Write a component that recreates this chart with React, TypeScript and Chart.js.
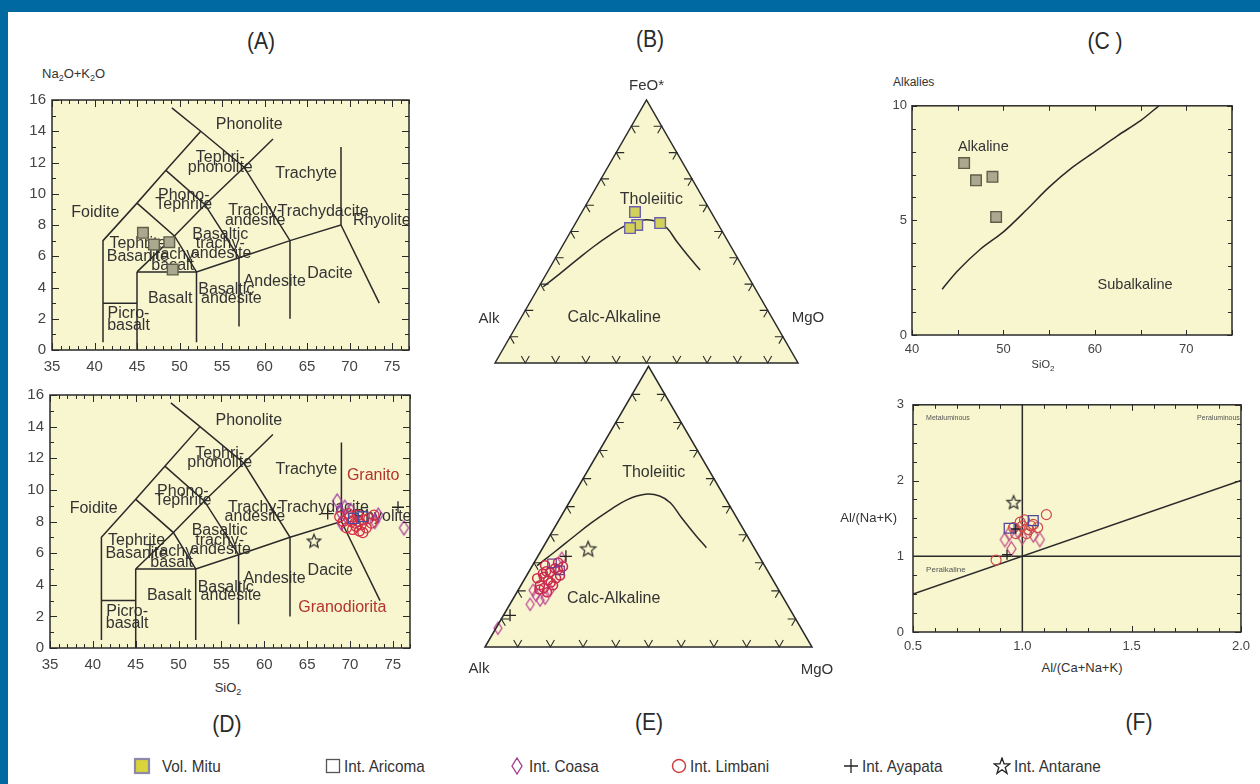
import React, { useEffect, useRef } from "react";
import { Chart, registerables } from "chart.js";

Chart.register(...registerables);

const FILL = "#f8f6cf";
const INK = "#2a2a2a";
const TEXT = "#333333";
const SANS = '"Liberation Sans", Arial, Helvetica, sans-serif';
const BLUE = "#0069a1";

const MITU_FILL = "#aaa98f";
const MITU_EDGE = "#5f5f4a";
const MITU_TERN_FILL = "#d2d25a";
const MITU_TERN_EDGE = "#6b5fb0";
const ARICOMA = "#4a4a9c";
const COASA = "#a23ea6";
const LIMBANI = "#d22f45";
const AYAPATA = "#222222";
const ANTARANE = "#333333";
const RED_TEXT = "#b2332d";
const CLEAR = "rgba(0,0,0,0)";
const H = Math.sqrt(3) / 2;

// ---------------- TAS diagrams (A, D)
const tasXTicks = [35, 40, 45, 50, 55, 60, 65, 70, 75];
const tasYTicks = [0, 2, 4, 6, 8, 10, 12, 14, 16];

const tasLines: number[][][] = [
  [[41, 0.5], [41, 7], [45, 9.4], [48.4, 11.5], [52.5, 14]],
  [[49.1, 15.5], [52.5, 14], [57.6, 11.7], [63, 7], [63, 2]],
  [[45, 9.4], [49.4, 7.3], [52, 5], [52, 0.5]],
  [[48.4, 11.5], [53, 9.3], [57, 5.9], [57, 1.5]],
  [[45, 5], [49.4, 7.3], [53, 9.3], [57.6, 11.7], [61, 13.5]],
  [[45, 5], [52, 5], [57, 5.9], [63, 7], [69, 8], [69, 13]],
  [[69, 8], [73.5, 3]],
  [[45, 0], [45, 5]],
  [[41, 3], [45, 3]],
];

const tasLabelText = [
  "Phonolite", "Tephri-", "phonolite", "Trachyte", "Phono-", "Tephrite", "Foidite",
  "Trachy-", "andesite", "Trachydacite", "Rhyolite", "Basaltic", "trachy-", "andesite",
  "Tephrite", "Basanite", "Trachy-", "basalt", "Dacite", "Andesite", "Basaltic",
  "Basalt", "andesite", "Picro-", "basalt",
];
const tasLabelX = [
  58.2, 54.8, 54.8, 64.9, 50.5, 50.5, 40.1,
  58.9, 58.9, 66.9, 73.8, 54.8, 54.8, 54.9,
  45.1, 45.1, 49.2, 49.2, 67.7, 61.2, 55.5,
  48.9, 56.1, 44.0, 44.0,
];
const tasLabelY = [
  14.4, 12.3, 11.7, 11.3, 9.9, 9.3, 8.8,
  8.9, 8.3, 8.85, 8.3, 7.4, 6.8, 6.2,
  6.8, 6.0, 6.1, 5.4, 4.9, 4.4, 3.85,
  3.3, 3.3, 2.3, 1.55,
];

const granText = ["Granito", "Granodiorita"];
const granX = [72.7, 69.1];
const granY = [10.9, 2.55];

// Vol. Mitu (A and C)
const mituSiO2 = [45.7, 47.0, 48.8, 49.2];
const mituAlk = [7.5, 6.75, 6.9, 5.15];

// Intrusives (D)
const limbaniSiO2 = [69.2, 69.6, 70.0, 70.3, 70.6, 70.9, 71.1, 71.3, 71.6, 71.9, 72.2, 72.5, 70.2, 71.0, 69.8, 72.8, 68.8, 70.7, 71.5];
const limbaniAlk = [8.0, 7.6, 8.3, 7.5, 7.9, 8.4, 7.4, 7.8, 8.1, 7.6, 8.2, 7.9, 8.0, 8.0, 8.5, 8.4, 8.3, 7.7, 7.3];
const coasaSiO2 = [68.5, 68.9, 69.4, 70.1, 72.9, 73.3, 69.0, 76.3];
const coasaAlk = [9.3, 8.6, 8.9, 8.7, 8.0, 8.4, 7.9, 7.6];
const aricomaSiO2 = [70.4, 71.5];
const aricomaAlk = [8.2, 8.3];
const ayapataSiO2 = [67.4, 75.6];
const ayapataAlk = [8.5, 8.9];
const antaraneSiO2 = [65.8];
const antaraneAlk = [6.8];

// ---------------- AFM ternaries (B, E): FeO* (F) and MgO (M) in %, Alk = rest
const curveF = [29.0, 34.1, 39.2, 44.2, 48.7, 52.5, 54.4, 53.8, 51.3, 46.2, 39.8, 35.4];
const curveM = [1.4, 4.5, 7.4, 10.4, 13.7, 17.3, 21.8, 26.5, 31.1, 36.9, 44.5, 50.0];

const mituF = [57.4, 52.5, 51.3, 53.2];
const mituM = [17.5, 20.7, 18.9, 27.9];

const limbaniF = [29.1, 26.6, 28.0, 25.5, 23.8, 22.0, 22.0, 30.1, 26.2, 28.7, 24.5, 19.5, 24.5, 27.5, 21.0, 25.0, 23.0, 27.0, 20.5];
const limbaniM = [3.8, 6.6, 7.4, 10.2, 7.4, 5.8, 9.8, 7.3, 4.6, 9.5, 3.7, 9.2, 9.5, 8.5, 7.5, 5.5, 8.6, 5.2, 6.4];
const coasaF = [18.4, 16.7, 20.2, 17.4, 20.2, 6.7, 31.6, 15.2];
const coasaM = [6.4, 8.5, 4.6, 9.7, 9.8, 0.6, 7.7, 6.2];
const aricomaF = [29.8, 27.3];
const aricomaM = [5.6, 9.3];
const ayapataF = [11.3, 32.3];
const ayapataM = [2.0, 8.6];
const antaraneF = [35.1];
const antaraneM = [14.0];

const ternLabelText = ["Tholeiitic", "Calc-Alkaline"];
const ternLabelF = [62.0, 17.1];
const ternLabelM = [20.6, 30.8];

// ---------------- Alkalies vs SiO2 (C)
const cXTicks = [40, 50, 60, 70];
const cYTicks = [0, 5, 10];
const cCurveX = [43.3, 45, 47.5, 50, 52.5, 55, 57.5, 60, 62.5, 65, 67];
const cCurveY = [2.0, 2.8, 3.75, 4.5, 5.45, 6.45, 7.3, 8.0, 8.7, 9.35, 10.0];

// ---------------- Shand (F)
const fXTicks = [0.5, 1.0, 1.5, 2.0];
const fYTicks = [0, 1, 2, 3];
const fLines: number[][][] = [
  [[0.5, 1], [2, 1]],
  [[1, 0], [1, 3]],
  [[0.5, 0.5], [2, 2]],
];
const limbaniACNK = [1.11, 0.88, 1.0, 1.03, 0.97, 1.05, 0.99, 1.02, 1.07, 0.96, 1.01, 1.04];
const limbaniANK = [1.55, 0.95, 1.4, 1.35, 1.3, 1.42, 1.45, 1.3, 1.38, 1.38, 1.48, 1.4];
const coasaACNK = [0.92, 0.95, 1.08, 1.05, 0.98, 1.0, 0.94];
const coasaANK = [1.22, 1.1, 1.22, 1.28, 1.33, 1.25, 1.3];
const aricomaACNK = [0.94, 1.05];
const aricomaANK = [1.37, 1.47];
const ayapataACNK = [0.97, 0.93];
const ayapataANK = [1.36, 1.02];
const antaraneACNK = [0.96];
const antaraneANK = [1.72];

// ---------------- helpers
type Lbl = { text: string; x: number; y: number; color?: string; size?: number; align?: CanvasTextAlign };

function pts(xs: number[], ys: number[]) {
  return xs.map((x, i) => ({ x, y: ys[i] }));
}
function tpt(F: number, M: number) {
  return { x: (M + F / 2) / 100, y: (F / 100) * H };
}
function tpts(Fs: number[], Ms: number[]) {
  return Fs.map((f, i) => tpt(f, Ms[i]));
}
function lineSets(lines: number[][][]) {
  return lines.map((pl) => ({
    data: pl.map(([x, y]) => ({ x, y })),
    showLine: true,
    pointRadius: 0,
    borderColor: INK,
    borderWidth: 1.5,
    tension: 0,
    fill: false,
  }));
}
function pointSet(data: any[], style: any, radius: number, fill: string, edge: string, bw = 1.3) {
  return {
    data,
    showLine: false,
    pointStyle: style,
    pointRadius: radius,
    pointBackgroundColor: fill,
    pointBorderColor: edge,
    pointBorderWidth: bw,
    backgroundColor: fill,
    borderColor: edge,
  };
}
function starImage(r: number, color: string) {
  const s = Math.ceil(r * 2 + 4);
  const c = document.createElement("canvas");
  c.width = s;
  c.height = s;
  const g = c.getContext("2d")!;
  g.strokeStyle = color;
  g.lineWidth = 1.3;
  g.beginPath();
  for (let i = 0; i < 10; i++) {
    const rr = i % 2 === 0 ? r : r * 0.45;
    const ang = -Math.PI / 2 + (i * Math.PI) / 5;
    const x = s / 2 + rr * Math.cos(ang);
    const y = s / 2 + 1 + rr * Math.sin(ang);
    if (i === 0) g.moveTo(x, y);
    else g.lineTo(x, y);
  }
  g.closePath();
  g.stroke();
  return c;
}
function diamondImage(w: number, h: number, color: string) {
  const c = document.createElement("canvas");
  c.width = w + 4;
  c.height = h + 4;
  const g = c.getContext("2d")!;
  g.strokeStyle = color;
  g.lineWidth = 1.3;
  g.beginPath();
  g.moveTo(c.width / 2, 2);
  g.lineTo(c.width - 2, c.height / 2);
  g.lineTo(c.width / 2, c.height - 2);
  g.lineTo(2, c.height / 2);
  g.closePath();
  g.stroke();
  return c;
}

interface RectSpec {
  area: { l: number; t: number; r: number; b: number };
  yW: number;
  xH: number;
  padTop: number;
  padRight: number;
  xMin: number;
  xMax: number;
  yMin: number;
  yMax: number;
  xTicks: number[];
  yTicks: number[];
  fmtX?: (v: number) => string;
  tickSize: number;
  xPad: number;
  yPad: number;
  xMinor: number;
  xMajor: number;
  yMinor: number;
  yMajor: number;
  minorLen: number;
  majorLen: number;
  labels: Lbl[];
  datasets: () => any[];
}

function rectBox(s: RectSpec) {
  return {
    left: s.area.l - s.yW,
    top: s.area.t - s.padTop,
    width: s.yW + (s.area.r - s.area.l) + s.padRight,
    height: s.padTop + (s.area.b - s.area.t) + s.xH,
  };
}

function rectDecor(s: RectSpec) {
  return {
    id: "rectDecor",
    beforeDatasetsDraw(chart: any) {
      const { ctx, chartArea: a } = chart;
      const xs = chart.scales.x;
      const ys = chart.scales.y;
      ctx.save();
      ctx.fillStyle = FILL;
      ctx.fillRect(a.left, a.top, a.right - a.left, a.bottom - a.top);
      ctx.beginPath();
      ctx.rect(a.left, a.top, a.right - a.left, a.bottom - a.top);
      ctx.clip();
      ctx.textBaseline = "middle";
      s.labels.forEach((l) => {
        ctx.font = `${l.size || 16}px ${SANS}`;
        ctx.fillStyle = l.color || TEXT;
        ctx.textAlign = l.align || "center";
        ctx.fillText(l.text, xs.getPixelForValue(l.x), ys.getPixelForValue(l.y));
      });
      ctx.restore();
    },
    afterDatasetsDraw(chart: any) {
      const { ctx, chartArea: a } = chart;
      const xs = chart.scales.x;
      const ys = chart.scales.y;
      ctx.save();
      ctx.strokeStyle = INK;
      ctx.lineWidth = 1;
      const isMajor = (v: number, m: number) => Math.abs(v / m - Math.round(v / m)) < 1e-6;
      const xi0 = Math.ceil(s.xMin / s.xMinor - 1e-9);
      const xi1 = Math.floor(s.xMax / s.xMinor + 1e-9);
      for (let i = xi0; i <= xi1; i++) {
        const v = i * s.xMinor;
        const L = isMajor(v, s.xMajor) ? s.majorLen : s.minorLen;
        const px = Math.round(xs.getPixelForValue(v)) + 0.5;
        ctx.beginPath();
        ctx.moveTo(px, a.bottom);
        ctx.lineTo(px, a.bottom - L);
        ctx.moveTo(px, a.top);
        ctx.lineTo(px, a.top + L);
        ctx.stroke();
      }
      const yi0 = Math.ceil(s.yMin / s.yMinor - 1e-9);
      const yi1 = Math.floor(s.yMax / s.yMinor + 1e-9);
      for (let i = yi0; i <= yi1; i++) {
        const v = i * s.yMinor;
        const L = isMajor(v, s.yMajor) ? s.majorLen : s.minorLen;
        const py = Math.round(ys.getPixelForValue(v)) + 0.5;
        ctx.beginPath();
        ctx.moveTo(a.left, py);
        ctx.lineTo(a.left + L, py);
        ctx.moveTo(a.right, py);
        ctx.lineTo(a.right - L, py);
        ctx.stroke();
      }
      ctx.lineWidth = 1.5;
      ctx.strokeRect(a.left, a.top, a.right - a.left, a.bottom - a.top);
      ctx.restore();
    },
  };
}

function buildRect(canvas: HTMLCanvasElement, s: RectSpec) {
  return new Chart(canvas, {
    type: "scatter",
    data: { datasets: s.datasets() },
    options: {
      responsive: false,
      animation: false,
      devicePixelRatio: 1,
      events: [],
      layout: { padding: { left: 0, top: s.padTop, right: s.padRight, bottom: 0 } },
      plugins: { legend: { display: false }, tooltip: { enabled: false } },
      scales: {
        x: {
          type: "linear",
          position: "bottom",
          min: s.xMin,
          max: s.xMax,
          grid: { display: false, drawTicks: false },
          border: { display: false },
          ticks: {
            color: "#444",
            font: { family: SANS, size: s.tickSize },
            padding: s.xPad,
            maxRotation: 0,
            autoSkip: false,
            callback: (v: any) => (s.fmtX ? s.fmtX(Number(v)) : String(v)),
          },
          afterBuildTicks: (sc: any) => {
            sc.ticks = s.xTicks.map((v) => ({ value: v }));
          },
          afterFit: (sc: any) => {
            sc.height = s.xH;
          },
        },
        y: {
          type: "linear",
          position: "left",
          min: s.yMin,
          max: s.yMax,
          grid: { display: false, drawTicks: false },
          border: { display: false },
          ticks: {
            color: "#444",
            font: { family: SANS, size: s.tickSize },
            padding: s.yPad,
            autoSkip: false,
            callback: (v: any) => String(v),
          },
          afterBuildTicks: (sc: any) => {
            sc.ticks = s.yTicks.map((v) => ({ value: v }));
          },
          afterFit: (sc: any) => {
            sc.width = s.yW;
          },
        },
      },
    } as any,
    plugins: [rectDecor(s)],
  });
}

interface TernSpec {
  area: { l: number; t: number; r: number; b: number };
  box: { left: number; top: number; width: number; height: number };
  corners: { text: string; at: "A" | "T" | "R"; dx: number; dy: number }[];
  datasets: () => any[];
}

function ternDecor(s: TernSpec) {
  const geo = (chart: any) => {
    const xs = chart.scales.x;
    const ys = chart.scales.y;
    const P = (F: number, M: number) => {
      const q = tpt(F, M);
      return [xs.getPixelForValue(q.x), ys.getPixelForValue(q.y)];
    };
    return { P, A: P(0, 0), T: P(100, 0), R: P(0, 100) };
  };
  return {
    id: "ternDecor",
    beforeDatasetsDraw(chart: any) {
      const ctx = chart.ctx;
      const { P, A, T, R } = geo(chart);
      ctx.save();
      ctx.fillStyle = FILL;
      ctx.beginPath();
      ctx.moveTo(A[0], A[1]);
      ctx.lineTo(T[0], T[1]);
      ctx.lineTo(R[0], R[1]);
      ctx.closePath();
      ctx.fill();
      ctx.font = `16px ${SANS}`;
      ctx.fillStyle = TEXT;
      ctx.textAlign = "center";
      ctx.textBaseline = "middle";
      ternLabelText.forEach((t, i) => {
        const [x, y] = P(ternLabelF[i], ternLabelM[i]);
        ctx.fillText(t, x, y);
      });
      ctx.restore();
    },
    afterDatasetsDraw(chart: any) {
      const ctx = chart.ctx;
      const { A, T, R } = geo(chart);
      ctx.save();
      ctx.strokeStyle = INK;
      ctx.lineWidth = 1.5;
      ctx.beginPath();
      ctx.moveTo(A[0], A[1]);
      ctx.lineTo(T[0], T[1]);
      ctx.lineTo(R[0], R[1]);
      ctx.closePath();
      ctx.stroke();
      const unit = (p: number[], q: number[]) => {
        const dx = q[0] - p[0];
        const dy = q[1] - p[1];
        const d = Math.hypot(dx, dy);
        return [dx / d, dy / d];
      };
      const edges = [
        { p: A, q: R, d1: unit(A, T), d2: unit(R, T) },
        { p: A, q: T, d1: unit(A, R), d2: unit(T, R) },
        { p: R, q: T, d1: unit(R, A), d2: unit(T, A) },
      ];
      const L = 8;
      ctx.lineWidth = 1.1;
      edges.forEach((e) => {
        for (let i = 1; i <= 9; i++) {
          const t = i / 10;
          const x = e.p[0] + (e.q[0] - e.p[0]) * t;
          const y = e.p[1] + (e.q[1] - e.p[1]) * t;
          ctx.beginPath();
          ctx.moveTo(x + e.d1[0] * L, y + e.d1[1] * L);
          ctx.lineTo(x, y);
          ctx.lineTo(x + e.d2[0] * L, y + e.d2[1] * L);
          ctx.stroke();
        }
      });
      ctx.font = `15px ${SANS}`;
      ctx.fillStyle = TEXT;
      ctx.textAlign = "center";
      ctx.textBaseline = "middle";
      const V: any = { A, T, R };
      s.corners.forEach((c) => {
        const v = V[c.at];
        ctx.fillText(c.text, v[0] + c.dx, v[1] + c.dy);
      });
      ctx.restore();
    },
  };
}

function buildTern(canvas: HTMLCanvasElement, s: TernSpec) {
  return new Chart(canvas, {
    type: "scatter",
    data: { datasets: s.datasets() },
    options: {
      responsive: false,
      animation: false,
      devicePixelRatio: 1,
      events: [],
      layout: {
        padding: {
          left: s.area.l - s.box.left,
          top: s.area.t - s.box.top,
          right: s.box.left + s.box.width - s.area.r,
          bottom: s.box.top + s.box.height - s.area.b,
        },
      },
      plugins: { legend: { display: false }, tooltip: { enabled: false } },
      scales: {
        x: { type: "linear", display: false, min: 0, max: 1 },
        y: { type: "linear", display: false, min: 0, max: H },
      },
    } as any,
    plugins: [ternDecor(s)],
  });
}

function curveSet(Fs: number[], Ms: number[]) {
  return {
    data: tpts(Fs, Ms),
    showLine: true,
    pointRadius: 0,
    borderColor: INK,
    borderWidth: 1.5,
    tension: 0.4,
    fill: false,
  };
}

// ---------------- panel specs
const tasBase = {
  yW: 45,
  xH: 30,
  padTop: 12,
  padRight: 14,
  xMin: 35,
  xMax: 77,
  yMin: 0,
  yMax: 16,
  xTicks: tasXTicks,
  yTicks: tasYTicks,
  tickSize: 15,
  xPad: 8,
  yPad: 6,
  xMinor: 1,
  xMajor: 5,
  yMinor: 1,
  yMajor: 2,
  minorLen: 4,
  majorLen: 7,
};

const tasLabels: Lbl[] = tasLabelText.map((t, i) => ({ text: t, x: tasLabelX[i], y: tasLabelY[i] }));

const specA: RectSpec = {
  ...tasBase,
  area: { l: 52, t: 97, r: 409, b: 350 },
  labels: tasLabels,
  datasets: () => [
    pointSet(pts(mituSiO2, mituAlk), "rect", 7.5, MITU_FILL, MITU_EDGE, 1.4),
    ...lineSets(tasLines),
  ],
};

const specD: RectSpec = {
  ...tasBase,
  area: { l: 50, t: 392, r: 410, b: 648 },
  labels: [
    ...tasLabels,
    ...granText.map((t, i) => ({ text: t, x: granX[i], y: granY[i], color: RED_TEXT })),
  ],
  datasets: () => [
    pointSet(pts(antaraneSiO2, antaraneAlk), starImage(7, ANTARANE), 7, CLEAR, ANTARANE),
    pointSet(pts(ayapataSiO2, ayapataAlk), "cross", 6, CLEAR, AYAPATA, 1.3),
    pointSet(pts(aricomaSiO2, aricomaAlk), "rect", 7, CLEAR, ARICOMA, 1.3),
    pointSet(pts(limbaniSiO2, limbaniAlk), "circle", 5, CLEAR, LIMBANI, 1.3),
    pointSet(pts(coasaSiO2, coasaAlk), diamondImage(9, 14, COASA), 6, CLEAR, COASA),
    ...lineSets(tasLines),
  ],
};

const specC: RectSpec = {
  area: { l: 912, t: 105, r: 1232, b: 335 },
  yW: 30,
  xH: 25,
  padTop: 12,
  padRight: 14,
  xMin: 40,
  xMax: 75,
  yMin: 0,
  yMax: 10,
  xTicks: cXTicks,
  yTicks: cYTicks,
  tickSize: 13,
  xPad: 7,
  yPad: 5,
  xMinor: 5,
  xMajor: 5,
  yMinor: 1,
  yMajor: 5,
  minorLen: 4,
  majorLen: 5,
  labels: [
    { text: "Alkaline", x: 47.8, y: 8.2, size: 14.5 },
    { text: "Subalkaline", x: 64.4, y: 2.2, size: 14.5 },
  ],
  datasets: () => [
    pointSet(pts(mituSiO2, mituAlk), "rect", 7.5, MITU_FILL, MITU_EDGE, 1.4),
    {
      data: pts(cCurveX, cCurveY),
      showLine: true,
      pointRadius: 0,
      borderColor: INK,
      borderWidth: 1.5,
      tension: 0.3,
      fill: false,
    },
  ],
};

const specF: RectSpec = {
  area: { l: 913, t: 400, r: 1241, b: 632 },
  yW: 30,
  xH: 25,
  padTop: 12,
  padRight: 16,
  xMin: 0.5,
  xMax: 2.0,
  yMin: 0,
  yMax: 3,
  xTicks: fXTicks,
  yTicks: fYTicks,
  fmtX: (v) => v.toFixed(1),
  tickSize: 13,
  xPad: 7,
  yPad: 9,
  xMinor: 0.1,
  xMajor: 0.5,
  yMinor: 0.25,
  yMajor: 1,
  minorLen: 4,
  majorLen: 6,
  labels: [
    { text: "Metaluminous", x: 0.56, y: 2.83, size: 7, align: "left", color: "#555" },
    { text: "Peraluminous", x: 1.995, y: 2.83, size: 7, align: "right", color: "#555" },
    { text: "Peralkaline", x: 0.56, y: 0.82, size: 8, align: "left", color: "#555" },
  ],
  datasets: () => [
    pointSet(pts(antaraneACNK, antaraneANK), starImage(7, ANTARANE), 7, CLEAR, ANTARANE),
    pointSet(pts(ayapataACNK, ayapataANK), "cross", 5, CLEAR, AYAPATA, 1.3),
    pointSet(pts(aricomaACNK, aricomaANK), "rect", 7, CLEAR, ARICOMA, 1.3),
    pointSet(pts(limbaniACNK, limbaniANK), "circle", 5, CLEAR, "#cf4a4a", 1.2),
    pointSet(pts(coasaACNK, coasaANK), diamondImage(9, 14, "#c0508a"), 6, CLEAR, COASA),
    ...lineSets(fLines),
  ],
};

const specB: TernSpec = {
  area: { l: 495, t: 100, r: 798, b: 363 },
  box: { left: 460, top: 72, width: 385, height: 300 },
  corners: [
    { text: "FeO*", at: "T", dx: 0, dy: -14 },
    { text: "Alk", at: "A", dx: -6, dy: -44 },
    { text: "MgO", at: "R", dx: 10, dy: -45 },
  ],
  datasets: () => [
    pointSet(tpts(mituF, mituM), "rect", 7.5, MITU_TERN_FILL, MITU_TERN_EDGE, 1.4),
    curveSet(curveF, curveM),
  ],
};

const specE: TernSpec = {
  area: { l: 485, t: 365, r: 812, b: 647 },
  box: { left: 455, top: 357, width: 395, height: 333 },
  corners: [
    { text: "Alk", at: "A", dx: -6, dy: 22 },
    { text: "MgO", at: "R", dx: 5, dy: 23 },
  ],
  datasets: () => [
    pointSet(tpts(antaraneF, antaraneM), starImage(8, ANTARANE), 8, CLEAR, ANTARANE),
    pointSet(tpts(ayapataF, ayapataM), "cross", 6, CLEAR, AYAPATA, 1.3),
    pointSet(tpts(aricomaF, aricomaM), "rect", 6, CLEAR, "#7a3a8c", 1.3),
    pointSet(tpts(limbaniF, limbaniM), "circle", 4.5, CLEAR, "#cc2a50", 1.6),
    pointSet(tpts(coasaF, coasaM), diamondImage(8, 12, "#c04a9a"), 5, CLEAR, COASA),
    curveSet(curveF, curveM),
  ],
};

// ---------------- React pieces
function ChartCanvas({ box, build }: { box: { left: number; top: number; width: number; height: number }; build: (c: HTMLCanvasElement) => Chart }) {
  const ref = useRef<HTMLCanvasElement>(null);
  useEffect(() => {
    const ch = build(ref.current!);
    return () => ch.destroy();
  }, []);
  return (
    <canvas
      ref={ref}
      width={box.width}
      height={box.height}
      style={{ position: "absolute", left: box.left, top: box.top, width: box.width, height: box.height }}
    />
  );
}

function Txt({ x, y, size, align = "center", color = TEXT, sx = 1, children }: any) {
  const tx = align === "center" ? "-50%" : align === "right" ? "-100%" : "0";
  const origin = align === "center" ? "50% 50%" : align === "right" ? "100% 50%" : "0 50%";
  return (
    <div
      style={{
        position: "absolute",
        left: x,
        top: y,
        transform: `translate(${tx}, -50%) scaleX(${sx})`,
        transformOrigin: origin,
        fontFamily: SANS,
        fontSize: size,
        color,
        whiteSpace: "nowrap",
        lineHeight: 1,
      }}
    >
      {children}
    </div>
  );
}

function Sym({ x, y, kind }: { x: number; y: number; kind: string }) {
  let el: any = null;
  if (kind === "mitu")
    el = <rect x={2} y={2} width={14} height={14} fill="#d8d43a" stroke="#8d8aa8" strokeWidth={2.2} />;
  else if (kind === "aricoma") el = <rect x={2.5} y={2.5} width={13} height={13} fill="none" stroke="#555" strokeWidth={1.3} />;
  else if (kind === "coasa") el = <polygon points="9,1 14,9 9,17 4,9" fill="none" stroke="#a03c8c" strokeWidth={1.3} />;
  else if (kind === "limbani") el = <circle cx={9} cy={9} r={6.5} fill="none" stroke="#d03c3c" strokeWidth={1.4} />;
  else if (kind === "ayapata")
    el = <path d="M9 2 V16 M2 9 H16" stroke="#222" strokeWidth={1.3} fill="none" />;
  else if (kind === "antarane")
    el = (
      <polygon
        points="9,1 11,6.8 17,6.8 12.2,10.4 14,16.3 9,12.7 4,16.3 5.8,10.4 1,6.8 7,6.8"
        fill="none"
        stroke="#222"
        strokeWidth={1.3}
      />
    );
  return (
    <svg width={18} height={18} style={{ position: "absolute", left: x - 9, top: y - 9 }}>
      {el}
    </svg>
  );
}

const legendItems = [
  { kind: "mitu", label: "Vol. Mitu", sx: 142, tx: 162 },
  { kind: "aricoma", label: "Int. Aricoma", sx: 333, tx: 344 },
  { kind: "coasa", label: "Int. Coasa", sx: 517, tx: 529 },
  { kind: "limbani", label: "Int. Limbani", sx: 679, tx: 690 },
  { kind: "ayapata", label: "Int. Ayapata", sx: 851, tx: 862 },
  { kind: "antarane", label: "Int. Antarane", sx: 1002, tx: 1014 },
];

const panelTitles = [
  { t: "(A)", x: 261, y: 41 },
  { t: "(B)", x: 650, y: 39 },
  { t: "(C )", x: 1105, y: 41 },
  { t: "(D)", x: 227, y: 724 },
  { t: "(E)", x: 649, y: 722 },
  { t: "(F)", x: 1139, y: 722 },
];

export default function App() {
  return (
    <div
      style={{
        position: "absolute",
        left: 0,
        top: 0,
        width: 1260,
        height: 784,
        background: "#ffffff",
        overflow: "hidden",
        fontFamily: SANS,
      }}
    >
      <div style={{ position: "absolute", left: 0, top: 0, width: 1260, height: 12, background: BLUE }} />
      <div style={{ position: "absolute", left: 0, top: 0, width: 8, height: 784, background: BLUE }} />

      <ChartCanvas box={rectBox(specA)} build={(c) => buildRect(c, specA)} />
      <ChartCanvas box={rectBox(specD)} build={(c) => buildRect(c, specD)} />
      <ChartCanvas box={rectBox(specC)} build={(c) => buildRect(c, specC)} />
      <ChartCanvas box={rectBox(specF)} build={(c) => buildRect(c, specF)} />
      <ChartCanvas box={specB.box} build={(c) => buildTern(c, specB)} />
      <ChartCanvas box={specE.box} build={(c) => buildTern(c, specE)} />

      {panelTitles.map((p) => (
        <Txt key={p.t} x={p.x} y={p.y} size={24} sx={0.88} color="#2a2a2a">
          {p.t}
        </Txt>
      ))}

      <Txt x={42} y={75} size={13} align="left">
        Na<sub style={{ fontSize: 9 }}>2</sub>O+K<sub style={{ fontSize: 9 }}>2</sub>O
      </Txt>
      <Txt x={228} y={689} size={13}>
        SiO<sub style={{ fontSize: 9 }}>2</sub>
      </Txt>
      <Txt x={893} y={82} size={12} align="left">Alkalies</Txt>
      <Txt x={1043} y={366} size={11}>
        SiO<sub style={{ fontSize: 8 }}>2</sub>
      </Txt>
      <Txt x={1082} y={667} size={13}>Al/(Ca+Na+K)</Txt>
      <Txt x={897} y={517} size={13} align="right">Al/(Na+K)</Txt>

      {legendItems.map((it) => (
        <React.Fragment key={it.kind}>
          <Sym x={it.sx} y={766} kind={it.kind} />
          <Txt x={it.tx} y={766} size={17} sx={0.9} align="left">
            {it.label}
          </Txt>
        </React.Fragment>
      ))}
    </div>
  );
}
